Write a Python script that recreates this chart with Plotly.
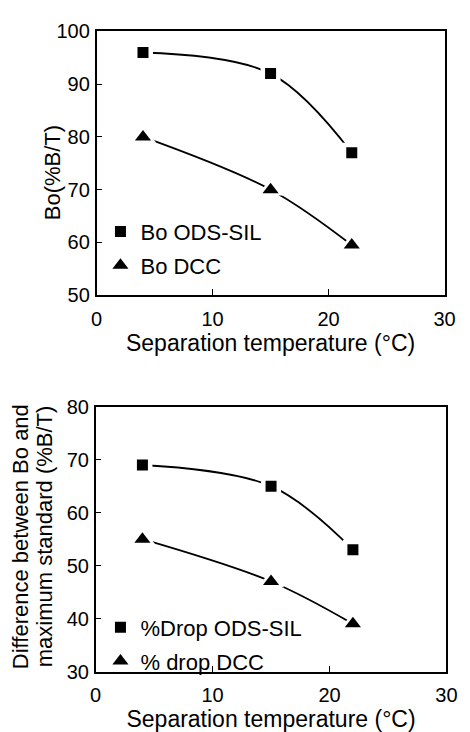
import plotly.graph_objects as go

temp = [4, 15, 22]
bo_ods = [96, 92, 77]
bo_dcc = [80, 70, 59.5]
drop_ods = [69, 65, 53]
drop_dcc = [55, 47, 39]

x_title = "Separation temperature (\u00b0C)"
y_title_top = "Bo(%B/T)"
y_title_bottom_lines = ["Difference between Bo and", "maximum standard (%B/T)"]

FONT = "Liberation Sans, Arial, Helvetica, sans-serif"
W, H = 470, 732

fig = go.Figure()

def add_series(x, y, name, symbol, size, xa, ya, legend):
    fig.add_trace(go.Scatter(x=x, y=y, mode="lines", line=dict(color="black", width=1.8, shape="spline"),
                             xaxis=xa, yaxis=ya, showlegend=False, hoverinfo="skip"))
    fig.add_trace(go.Scatter(x=x, y=y, mode="markers",
                             marker=dict(symbol=symbol, size=size + 9, color="white"),
                             xaxis=xa, yaxis=ya, showlegend=False, hoverinfo="skip"))
    fig.add_trace(go.Scatter(x=x, y=y, mode="markers", name=name,
                             marker=dict(symbol=symbol, size=size, color="black"),
                             xaxis=xa, yaxis=ya, legend=legend, legendgroup=name))

add_series(temp, bo_ods, "Bo ODS-SIL", "square", 11, "x", "y", "legend")
add_series(temp, bo_dcc, "Bo DCC", "triangle-up", 14, "x", "y", "legend")
add_series(temp, drop_ods, "%Drop ODS-SIL", "square", 11, "x2", "y2", "legend2")
add_series(temp, drop_dcc, "% drop DCC", "triangle-up", 14, "x2", "y2", "legend2")

axis_common = dict(showline=True, linecolor="black", linewidth=1.5, mirror=True,
                   ticks="inside", ticklen=6, tickcolor="black", showgrid=False, zeroline=False,
                   tickfont=dict(family=FONT, size=20, color="black"))

xtitle = dict(text=x_title, standoff=3, font=dict(family=FONT, size=23, color="black"))

def px(x):
    return x / W

def py(y):
    return 1 - y / H

def ann(text, x, y, size, angle=0):
    return dict(text=text, x=px(x), y=py(y), xref="paper", yref="paper", showarrow=False,
                textangle=angle, xanchor="center", yanchor="middle",
                font=dict(family=FONT, size=size, color="black"))

annotations = [
    ann(y_title_top, 49, 167, 22, -90),
    ann(y_title_bottom_lines[0], 15, 542, 22, -90),
    ann(y_title_bottom_lines[1], 40, 542, 22, -90),
]

fig.update_layout(
    width=W, height=H,
    margin=dict(l=0, r=0, t=0, b=0),
    paper_bgcolor="white", plot_bgcolor="white",
    font=dict(family=FONT, size=20, color="black"),
    xaxis=dict(domain=[94/W, 455/W], range=[0, 30], dtick=10, anchor="y",
               ticklabelstandoff=5, title=xtitle, **axis_common),
    yaxis=dict(domain=[(H-293)/H, (H-21)/H], range=[50, 100], dtick=10, anchor="x",
               ticklabelstandoff=1, **axis_common),
    xaxis2=dict(domain=[93/W, 457/W], range=[0, 30], dtick=10, anchor="y2",
                ticklabelstandoff=5, title=xtitle, **axis_common),
    yaxis2=dict(domain=[(H-681)/H, (H-408)/H], range=[30, 80], dtick=10, anchor="x2",
                ticklabelstandoff=1, **axis_common),
    legend=dict(x=px(98), y=py(206), xanchor="left", yanchor="top",
                bgcolor="rgba(0,0,0,0)", itemwidth=30, tracegroupgap=2,
                font=dict(family=FONT, size=22, color="black")),
    legend2=dict(x=px(98), y=py(614), xanchor="left", yanchor="top",
                 bgcolor="rgba(0,0,0,0)", itemwidth=30, tracegroupgap=2,
                 font=dict(family=FONT, size=22, color="black")),
    annotations=annotations,
)

fig.write_html("out.html")
